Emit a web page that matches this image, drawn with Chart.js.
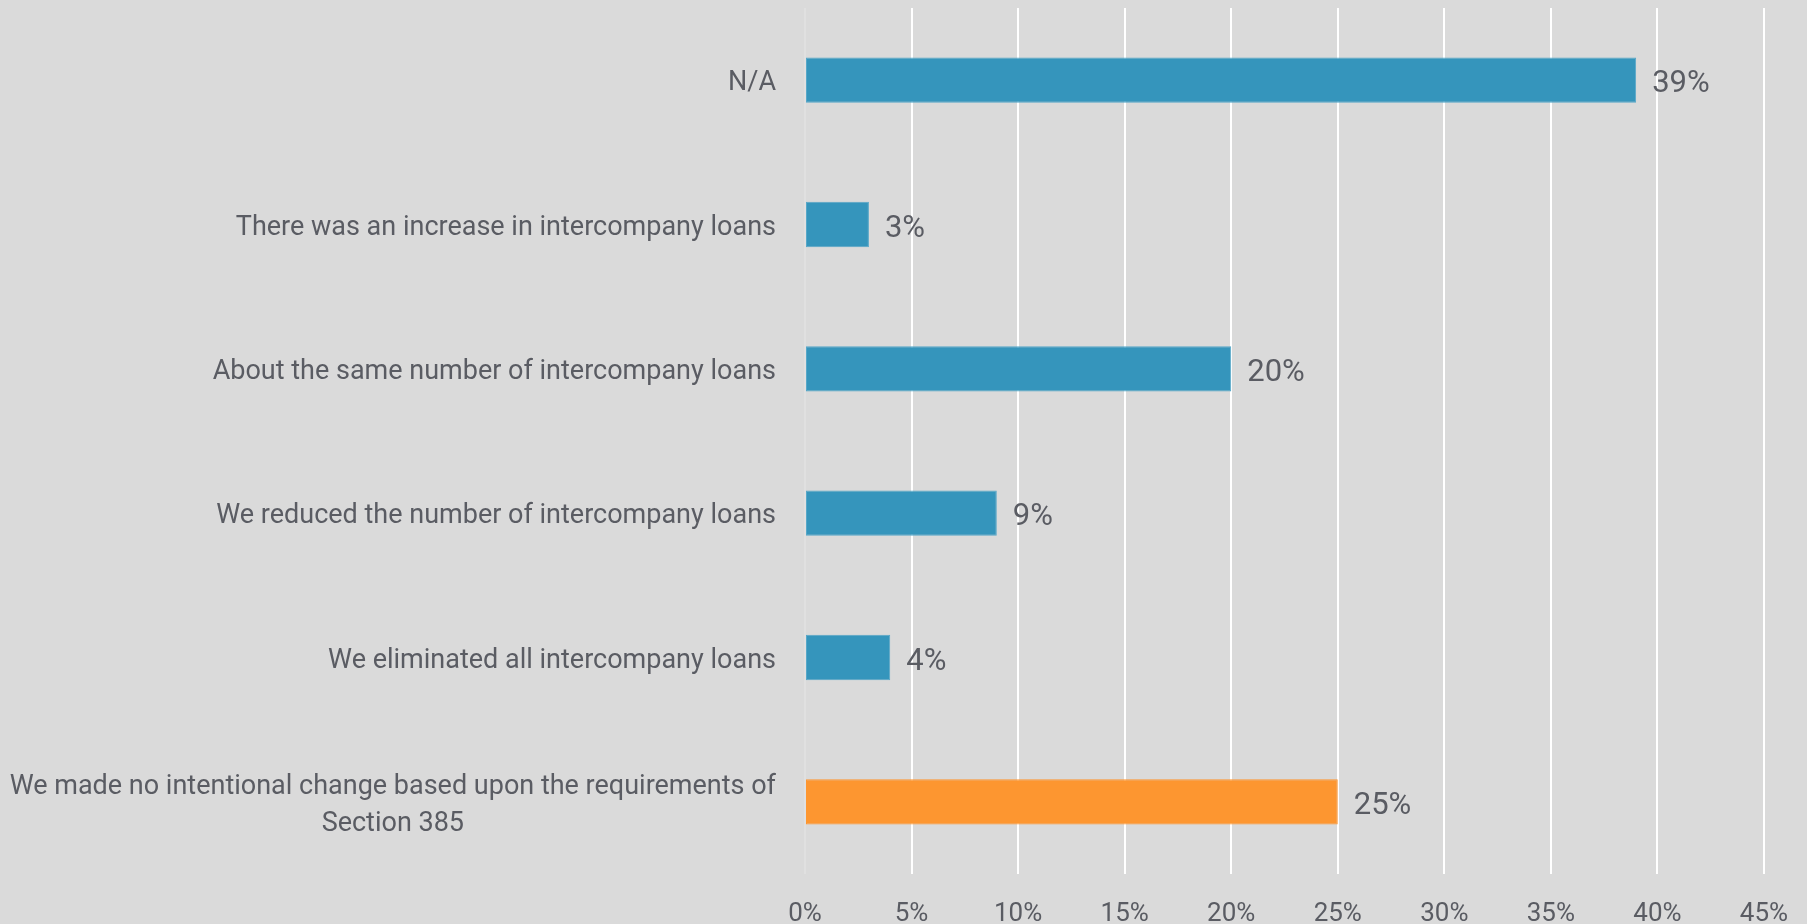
<!DOCTYPE html>
<html>
<head>
<meta charset="utf-8">
<title>Intercompany loans</title>
<script src="https://cdn.jsdelivr.net/npm/chart.js@4.4.1/dist/chart.umd.min.js"></script>
<style>
    html, body { margin: 0; padding: 0; background: #dadada; overflow: hidden; }
    #wrap { width: 1807px; height: 924px; position: relative; }
</style>
</head>
<body>
<div id="wrap"><canvas id="loansChart"></canvas></div>
<script>
// Survey answers, top to bottom
const categories = [
    'N/A',
    'There was an increase in intercompany loans',
    'About the same number of intercompany loans',
    'We reduced the number of intercompany loans',
    'We eliminated all intercompany loans',
    ['We made no intentional change based upon the requirements of', 'Section 385']
];
const shares = [39, 3, 20, 9, 4, 25];
const barColors = ['#3595bc', '#3595bc', '#3595bc', '#3595bc', '#3595bc', '#fd9630'];
const borderColors = ['#56a7c8', '#56a7c8', '#56a7c8', '#56a7c8', '#56a7c8', '#fd9630'];
const tickValues = [0, 5, 10, 15, 20, 25, 30, 35, 40, 45];

const textColor = '#5a5c63';
const fontFamily = 'Roboto, "Noto Sans", sans-serif';

// Category labels: right aligned block, lines centred inside it
const categoryLabels = {
    id: 'categoryLabels',
    afterDraw(chart) {
        const ctx = chart.ctx;
        const yScale = chart.scales.y;
        const right = chart.chartArea.left - 29;
        const lineHeight = 37;
        ctx.save();
        ctx.font = '27px ' + fontFamily;
        ctx.fillStyle = textColor;
        ctx.textBaseline = 'middle';
        chart.data.labels.forEach(function(label, i) {
            const lines = Array.isArray(label) ? label : [label];
            const y = yScale.getPixelForValue(i) + 3.5;
            const widths = lines.map(l => ctx.measureText(l).width);
            const blockWidth = Math.max.apply(null, widths);
            const centre = right - blockWidth / 2;
            ctx.textAlign = 'center';
            lines.forEach(function(line, j) {
                const ly = y + (j - (lines.length - 1) / 2) * lineHeight;
                ctx.fillText(line, centre, ly);
            });
        });
        ctx.restore();
    }
};

// Percentage labels just past the end of each bar
const valueLabels = {
    id: 'valueLabels',
    afterDatasetsDraw(chart) {
        const ctx = chart.ctx;
        const meta = chart.getDatasetMeta(0);
        ctx.save();
        ctx.font = '31px ' + fontFamily;
        ctx.fillStyle = textColor;
        ctx.textAlign = 'left';
        ctx.textBaseline = 'middle';
        meta.data.forEach(function(bar, i) {
            ctx.fillText(shares[i] + '%', bar.x + 16, bar.y + 4.5);
        });
        ctx.restore();
    }
};

new Chart(document.getElementById('loansChart'), {
    type: 'bar',
    data: {
        labels: categories,
        datasets: [{
            data: shares,
            backgroundColor: barColors,
            borderColor: borderColors,
            borderWidth: 1,
            borderSkipped: false,
            barPercentage: 1,
            categoryPercentage: 0.314
        }]
    },
    options: {
        indexAxis: 'y',
        responsive: true,
        maintainAspectRatio: false,
        animation: false,
        layout: {
            padding: { top: 8, right: 43, bottom: 0, left: 0 }
        },
        scales: {
            x: {
                min: 0,
                max: 45,
                afterBuildTicks: function(scale) {
                    scale.ticks = tickValues.map(v => ({ value: v }));
                },
                afterFit: function(scale) {
                    scale.height = 50;
                    scale.paddingLeft = 0;
                    scale.paddingRight = 0;
                },
                border: { display: false },
                grid: {
                    drawTicks: false,
                    lineWidth: 2,
                    color: function(c) {
                        return c.tick && c.tick.value === 0 ? '#e0e0e0' : '#ffffff';
                    }
                },
                ticks: {
                    padding: 25,
                    color: textColor,
                    font: { family: fontFamily, size: 26 },
                    callback: function(v) { return v + '%'; }
                }
            },
            y: {
                afterFit: function(scale) {
                    scale.width = 805;
                },
                border: { display: false },
                grid: { display: false },
                ticks: { display: false }
            }
        },
        plugins: {
            legend: { display: false },
            tooltip: { enabled: false }
        }
    },
    plugins: [categoryLabels, valueLabels]
});
</script>
</body>
</html>
